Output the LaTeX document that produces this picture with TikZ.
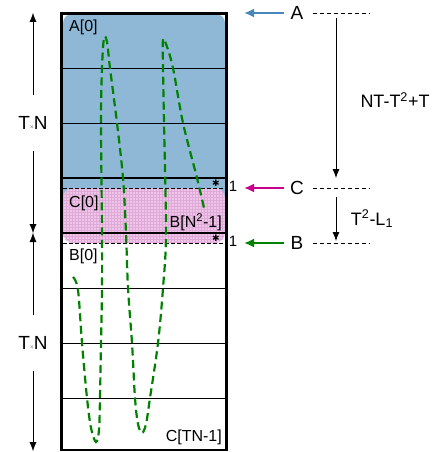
\documentclass[tikz,border=0pt]{standalone}
\usepackage{fontspec}
\setmainfont{Liberation Sans}
\newfontfamily\symfont{DejaVu Sans}
\usepackage{tikz}
\usetikzlibrary{arrows.meta,patterns}

\definecolor{memblue}{RGB}{142,184,214}
\definecolor{mempink}{RGB}{240,196,232}
\definecolor{pinkgrid}{RGB}{222,170,216}
\definecolor{ptrblue}{RGB}{74,134,190}
\definecolor{ptrpink}{RGB}{200,0,140}
\definecolor{ptrgreen}{RGB}{0,130,0}

\begin{document}
\begin{tikzpicture}[
  x=1pt, y=-1pt,
  font=\fontsize{16}{19}\selectfont, >={Latex[length=9pt,width=7pt]},
  cell/.style={line width=0.8pt},
  cellbold/.style={line width=1.8pt},
  colborder/.style={draw, line width=2.8pt},
  cutline/.style={dash pattern=on 3.5pt off 2.5pt, line width=0.9pt},
  idx/.style={inner sep=1pt},
  tnlabel/.style={minimum height=56pt, inner sep=0pt, font=\fontsize{19}{22}\selectfont},
  ptrarr/.style={-{Latex[length=10pt,width=9pt]}, line width=2pt},
  ptrlabel/.style={inner xsep=6pt, font=\fontsize{19}{22}\selectfont},
  ptrdash/.style={dash pattern=on 4pt off 3pt, line width=0.8pt, shorten <=3pt},
  gaparr/.style={->, line width=0.8pt},
  gaplabel/.style={font=\fontsize{18}{21}\selectfont},
  onelabel/.style={font=\fontsize{15}{15}\selectfont, inner sep=1pt},
  star/.style={font=\symfont\fontsize{9}{9}\selectfont, inner sep=0pt},
  walk/.style={ptrgreen, line width=2.2pt, dash pattern=on 8pt off 4.5pt},
]
\useasboundingbox (0,0) rectangle (433,452);

% memory column
\fill[memblue, rounded corners=9pt] (63,14) rectangle (225,215);
\fill[mempink, rounded corners=10pt] (63,188) rectangle (225,243);
\fill[pattern=grid, pattern color=pinkgrid, rounded corners=10pt] (63,188) rectangle (225,243);
\foreach \y in {68,123,288,343,398}
  \draw[cell] (62,\y) -- (226,\y);
\foreach \y in {178,233}
  \draw[cellbold] (62,\y) -- (226,\y);
\draw[cutline] (63,188) -- (225,188);
\draw[cutline] (63,243) -- (225,243);

% access pattern
\draw[walk] plot[smooth, tension=0.55] coordinates {
  (73,277) (78,290) (82,343) (87,398) (91,428) (96,442) (99,430) (100,398)
  (101,343) (102,288) (102,233) (101,123) (102,68) (104,38) (107,42) (110,68)
  (117,123) (123,178) (126,233) (128,288) (132,343) (135,398) (138,424) (142,433)
  (146,424) (150,398) (158,343) (163,288) (166,233) (164,123) (163,68) (163,40)
  (166,44) (173,68) (183,123) (197,178) (204,208)};

\draw[colborder] (61.5,13.5) rectangle (226.5,450);

\node[idx, anchor=west] (a0) at (68,27) {A[0]};
\node[idx, anchor=west] (c0) at (68,203) {C[0]};
\node[idx, anchor=east] (bn) at (223,222) {B[N\textsuperscript{2}-1]};
\node[idx, anchor=west] (b0) at (68,256) {B[0]};
\node[idx, anchor=east] (ctn) at (223,437) {C[TN-1]};
\node[star] (stC) at (216,183) {✱};
\node[star] (stB) at (216,238) {✱};
\node[onelabel] (oneC) at (233,186) {1};
\node[onelabel] (oneB) at (233,241) {1};

% block heights
\node[tnlabel] (tnA) at (33,123) {T{\fontsize{7}{7}\selectfont\color{gray}×}N};
\node[tnlabel] (tnB) at (33,343) {T{\fontsize{7}{7}\selectfont\color{gray}×}N};
\coordinate (tnAtop) at (33,13);
\coordinate (tnmid) at (33,233);
\coordinate (tnBbot) at (33,451);
\draw[->] (tnA) -- (tnAtop);
\draw[->] (tnA) -- (tnmid);
\draw[->] (tnB) -- (tnmid);
\draw[->] (tnB) -- (tnBbot);

% pointers
\node[ptrlabel] (lA) at (297,13) {A};
\node[ptrlabel] (lC) at (297,188) {C};
\node[ptrlabel] (lB) at (297,243) {B};
\coordinate (pA) at (244,13);
\coordinate (pC) at (244,188);
\coordinate (pB) at (244,243);
\coordinate (eA) at (370,13);
\coordinate (eC) at (370,188);
\coordinate (eB) at (370,243);
\draw[ptrarr, ptrblue] (lA) -- (pA);
\draw[ptrarr, ptrpink] (lC) -- (pC);
\draw[ptrarr, ptrgreen] (lB) -- (pB);
\draw[ptrdash] (lA) -- (eA);
\draw[ptrdash] (lC) -- (eC);
\draw[ptrdash] (lB) -- (eB);

\coordinate (gA) at (336,13);
\coordinate (gC) at (336,188);
\coordinate (gB) at (336,243);
\draw[gaparr, shorten <=5pt, shorten >=10pt] (gA) -- (gC);
\draw[gaparr, shorten <=9pt, shorten >=2pt] (gC) -- (gB);
\node[gaplabel] (dAC) at (395,100) {NT-T\textsuperscript{2}+T};
\node[gaplabel] (dCB) at (372,219) {T\textsuperscript{2}-L\textsubscript{1}};
\end{tikzpicture}
\end{document}
